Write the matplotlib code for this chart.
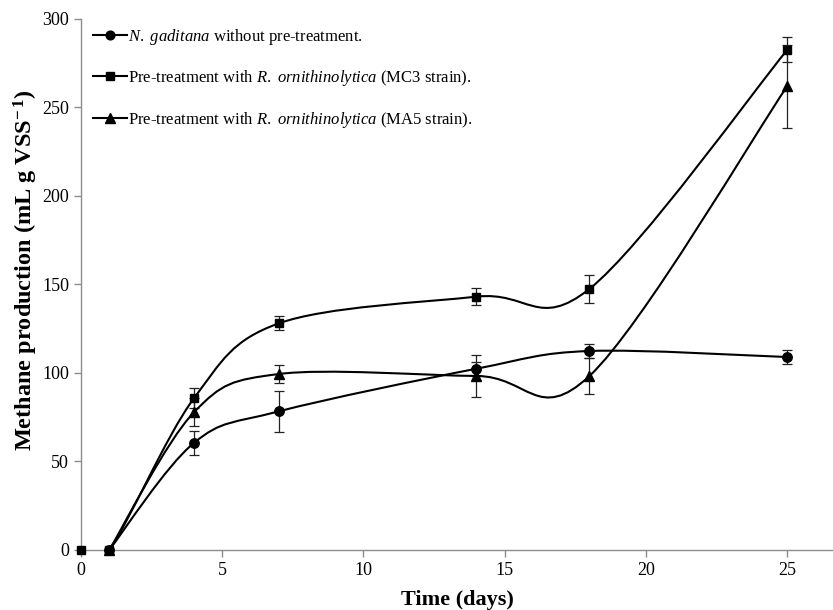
import numpy as np
import matplotlib
matplotlib.use("Agg")
import matplotlib.pyplot as plt
from matplotlib.path import Path
from matplotlib.patches import PathPatch
from matplotlib.lines import Line2D

plt.rcParams['font.family'] = ['Liberation Serif', 'DejaVu Serif']
plt.rcParams['mathtext.fontset'] = 'custom'
plt.rcParams['mathtext.rm'] = 'Liberation Serif'
plt.rcParams['mathtext.it'] = 'Liberation Serif:italic'
plt.rcParams['mathtext.bf'] = 'Liberation Serif:bold'

# time in days
days = [0, 1, 4, 7, 14, 18, 25]

# methane production (mL g VSS-1) and standard deviations
no_pretreat = [0, 0, 60.5, 78.3, 102.4, 112.4, 109]
no_pretreat_err = [0, 0, 6.7, 11.7, 4, 4, 4]
mc3 = [0, 0, 85.7, 128, 143.1, 147.5, 282.5]
mc3_err = [0, 0, 5.7, 4, 4.7, 8, 7]
ma5 = [0, 0, 77.8, 99.4, 98.3, 98.3, 262]
ma5_err = [0, 0, 8, 5.3, 12, 10, 23.5]

# first point drawn for each series (square series starts at day 0)
start = [1, 0, 1]

labels = [r'$\mathit{N.}$ $\mathit{gaditana}$ without pre-treatment.',
          r'Pre-treatment with $\mathit{R.}$ $\mathit{ornithinolytica}$ (MC3 strain).',
          r'Pre-treatment with $\mathit{R.}$ $\mathit{ornithinolytica}$ (MA5 strain).']
markers = ['o', 's', '^']
msizes = [6.8, 6.4, 7.0]
zords = [6, 5, 4]


def smooth_path(x, y):
    # excel-like smoothed line (catmull-rom as bezier segments)
    pts = np.column_stack([x, y]).astype(float)
    n = len(pts)
    verts = [pts[0]]
    codes = [Path.MOVETO]
    for i in range(n - 1):
        p0 = pts[max(i - 1, 0)]
        p1 = pts[i]
        p2 = pts[i + 1]
        p3 = pts[min(i + 2, n - 1)]
        verts += [p1 + (p2 - p0) / 6, p2 - (p3 - p1) / 6, p2]
        codes += [Path.CURVE4] * 3
    return Path(verts, codes)


fig = plt.figure(figsize=(8.33, 6.10), dpi=100)
ax = fig.add_axes([0.0972, 0.0984, 0.9028, 0.8706])

series = [(no_pretreat, no_pretreat_err), (mc3, mc3_err), (ma5, ma5_err)]
handles = []
for (vals, errs), m, ms, s0, zo in zip(series, markers, msizes, start, zords):
    ax.add_patch(PathPatch(smooth_path(days[s0:], vals[s0:]), fill=False,
                           edgecolor='black', lw=1.5, zorder=3))
    ax.errorbar(days[2:], vals[2:], yerr=errs[2:], fmt='none', ecolor='#222222',
                elinewidth=0.9, capsize=3.5, capthick=0.9, zorder=2)
    ax.plot(days[s0:], vals[s0:], linestyle='none', marker=m, markersize=ms,
            color='black', zorder=zo, clip_on=False)
    handles.append(Line2D([], [], color='black', lw=1.5, marker=m, markersize=ms - 0.5))

ax.set_xlim(0, 26.62)
ax.set_ylim(0, 300)
ax.set_xticks([0, 5, 10, 15, 20, 25])
ax.set_yticks([0, 50, 100, 150, 200, 250, 300])
for s in ['top', 'right']:
    ax.spines[s].set_visible(False)
for s in ['left', 'bottom']:
    ax.spines[s].set_color('#8c8c8c')
    ax.spines[s].set_linewidth(1.0)
ax.tick_params(axis='both', colors='#8c8c8c', labelcolor='black', labelsize=13,
               length=5, width=1.0, direction='out')

ax.set_xlabel('Time (days)', fontsize=16, fontweight='bold', labelpad=8)
ax.set_ylabel(r'Methane production (mL g VSS$^{\mathbf{-\,1}}$)', fontsize=17.5,
              fontweight='bold')
ax.yaxis.set_label_coords(-0.055, 0.527)

ax.legend(handles, labels, loc='upper left', bbox_to_anchor=(0.006, 1.0),
          frameon=False, fontsize=12, handlelength=2.0, handletextpad=0.1,
          labelspacing=1.28, borderaxespad=0.08)

fig.savefig('out.png', dpi=100)
